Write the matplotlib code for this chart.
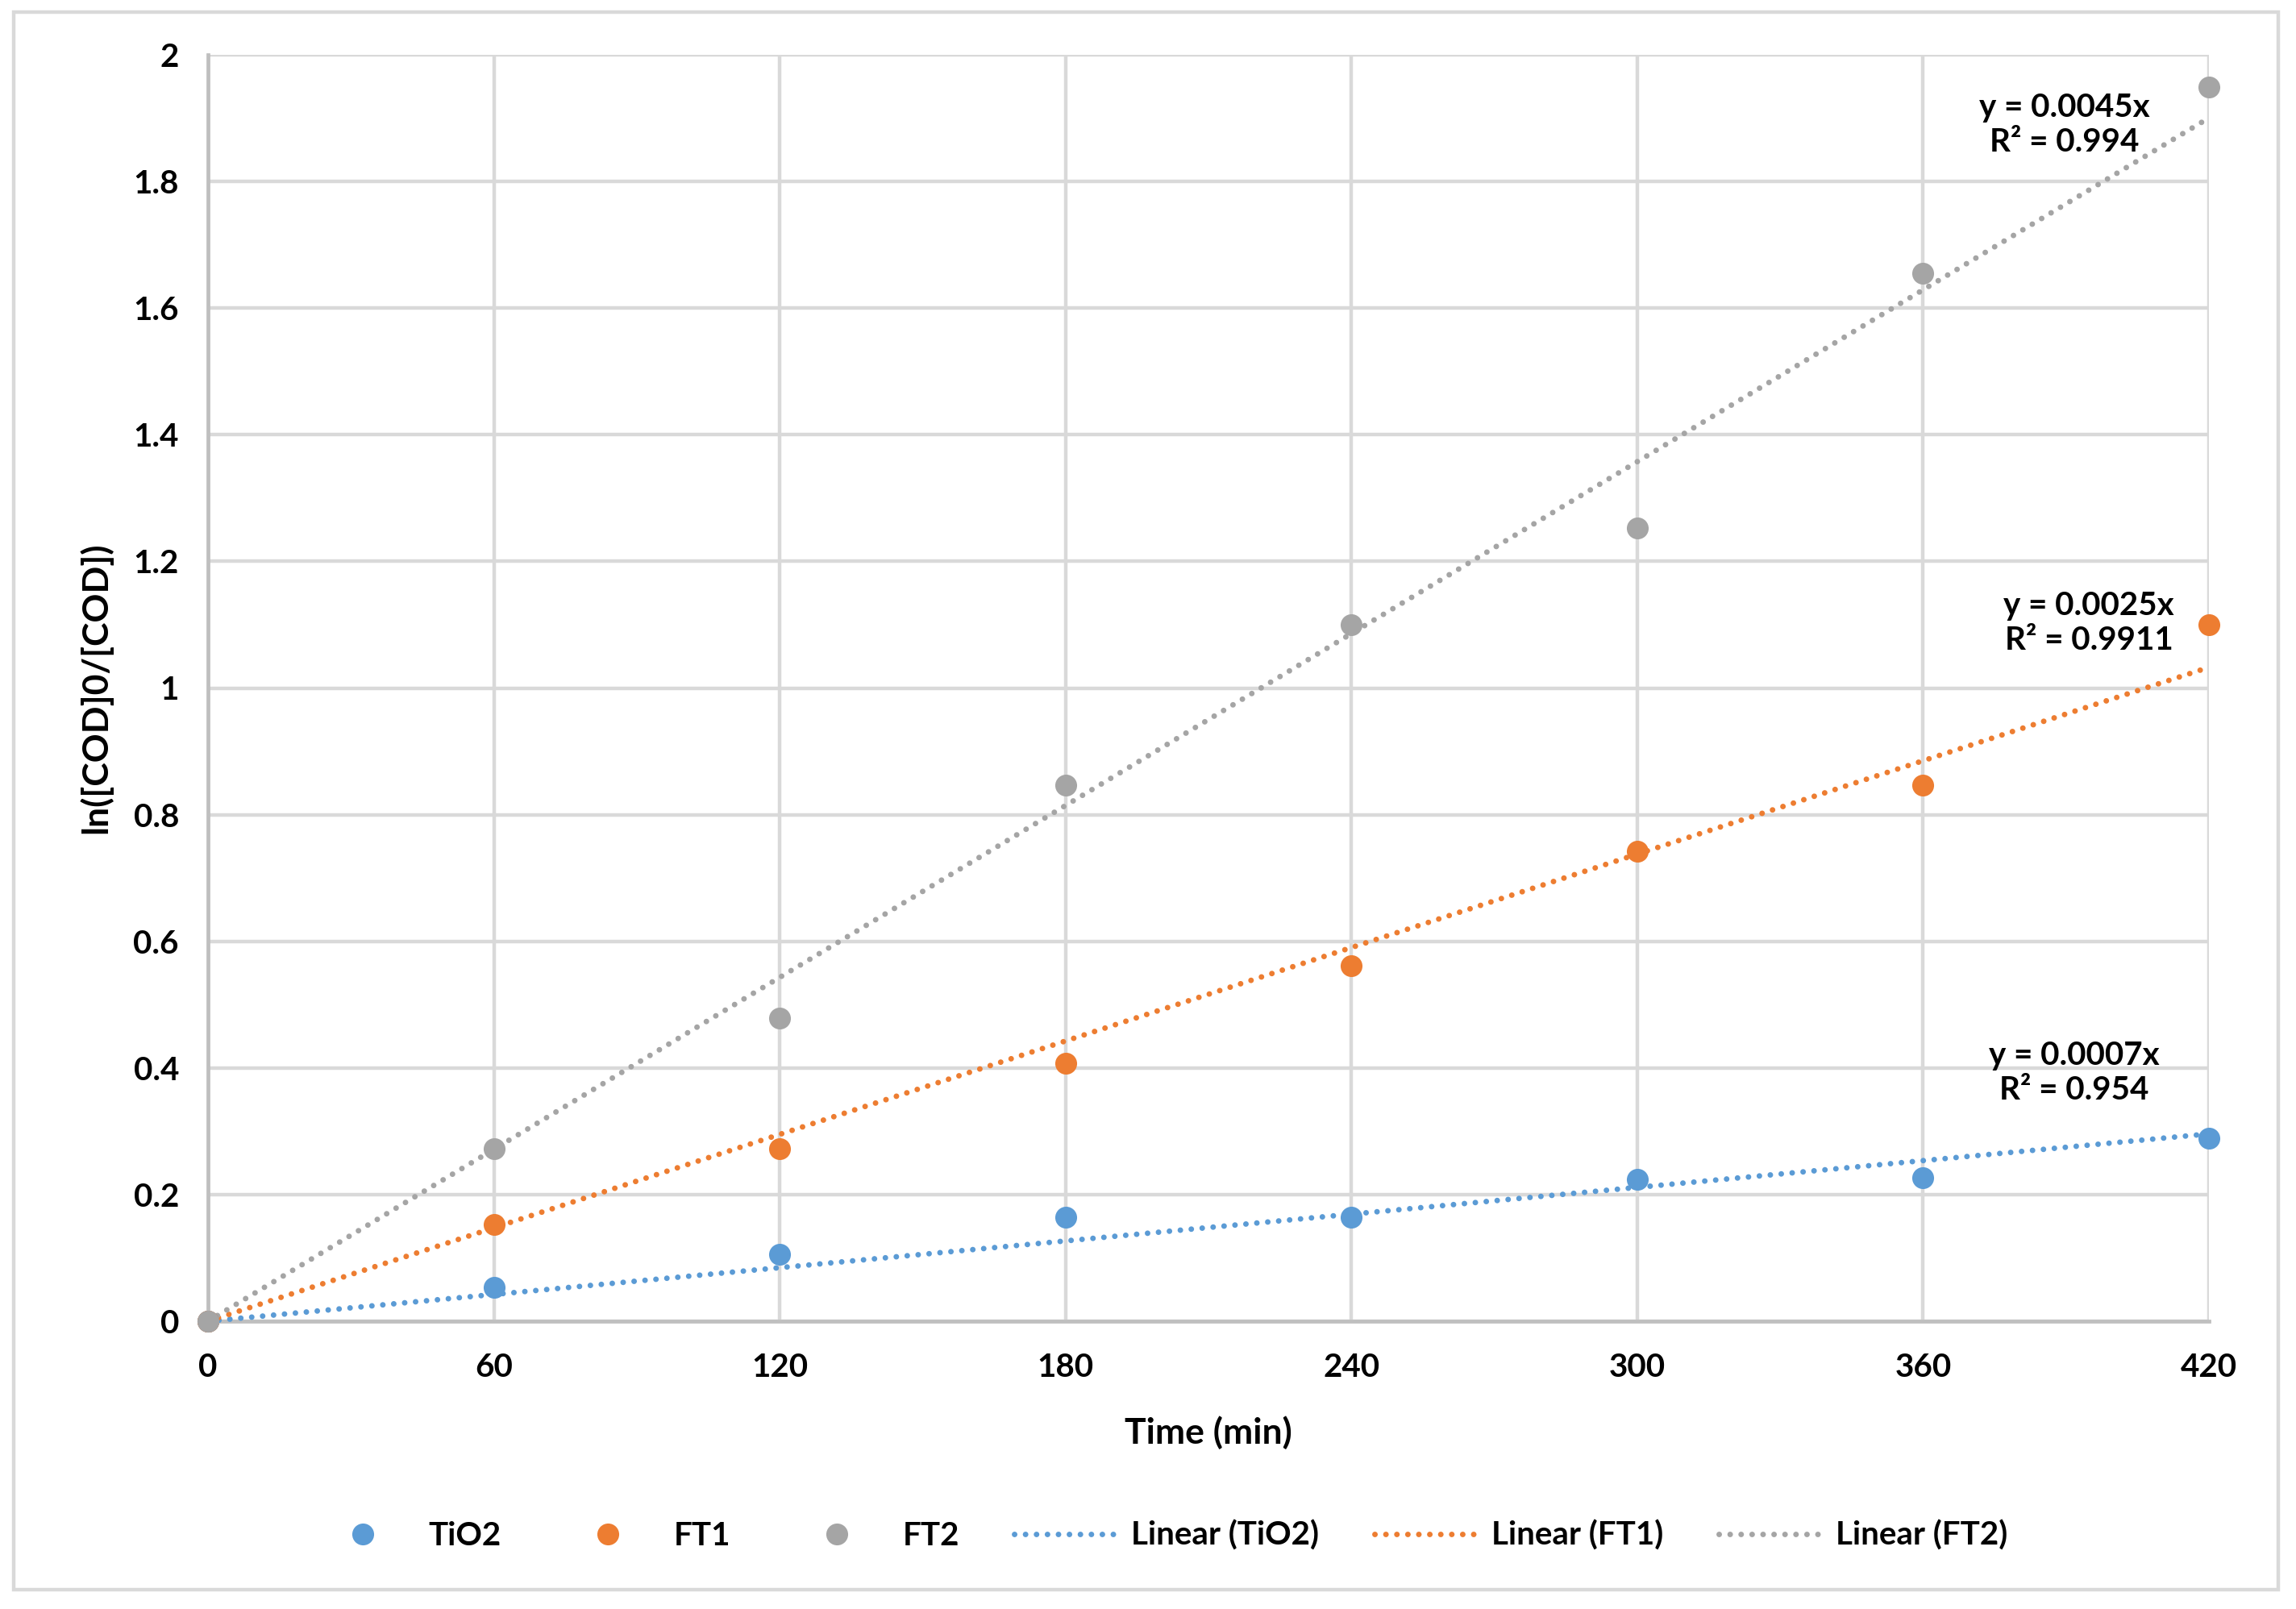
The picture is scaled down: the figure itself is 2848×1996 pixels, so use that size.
import numpy as np
import matplotlib
matplotlib.use("Agg")
import matplotlib.pyplot as plt
from matplotlib.patches import Rectangle
from matplotlib.ticker import FuncFormatter

plt.rcParams['font.family'] = ['Lato', 'DejaVu Sans']
plt.rcParams['font.weight'] = 'bold'

time_min = [0, 60, 120, 180, 240, 300, 360, 420]
tio2 = [0.0, 0.053, 0.106, 0.164, 0.164, 0.224, 0.227, 0.289]
ft1 = [0.0, 0.153, 0.273, 0.407, 0.562, 0.742, 0.846, 1.10]
ft2 = [0.0, 0.273, 0.479, 0.846, 1.10, 1.253, 1.655, 1.949]
series_names = ['TiO2', 'FT1', 'FT2']
eq_labels = ['y = 0.0007x\nR² = 0.954', 'y = 0.0025x\nR² = 0.9911', 'y = 0.0045x\nR² = 0.994']
colors = ['#5B9BD5', '#ED7D31', '#A5A5A5']
xticks = [0, 60, 120, 180, 240, 300, 360, 420]
yticks = [0, 0.2, 0.4, 0.6, 0.8, 1.0, 1.2, 1.4, 1.6, 1.8, 2.0]

W, H = 2848, 1996
fig = plt.figure(figsize=(W / 100, H / 100), dpi=100)
ax = fig.add_axes([258 / W, 1 - 1639 / H, (2740 - 258) / W, (1639 - 68) / H])

fig.patches.append(Rectangle((17 / W, 1 - 1972 / H), (2826 - 17) / W, (1972 - 15) / H,
                             transform=fig.transFigure, fill=False,
                             edgecolor='#D9D9D9', linewidth=3.2, zorder=0))

x = np.array(time_min, dtype=float)
data = [np.array(tio2), np.array(ft1), np.array(ft2)]
label_pos = [(391.7, 0.392), (394.8, 1.102), (389.6, 1.889)]

handles_pts = []
handles_lines = []
xfit = np.array([0.0, 420.0])
for y, name, c, eq, pos in zip(data, series_names, colors, eq_labels, label_pos):
    slope = np.sum(x * y) / np.sum(x * x)
    ln, = ax.plot(xfit, slope * xfit, color=c, linewidth=5,
                  linestyle=(0, (0.01, 1.95)), dash_capstyle='round',
                  zorder=3, clip_on=False, label=f'Linear ({name})')
    pt, = ax.plot(x, y, linestyle='none', marker='o', markersize=19.5,
                  color=c, markeredgewidth=0, zorder=4, clip_on=False, label=name)
    handles_pts.append(pt)
    handles_lines.append(ln)
    ax.text(pos[0], pos[1], eq, ha='center', va='center', fontsize=29,
            fontweight='bold', linespacing=1.2, zorder=5)

ax.set_xlim(0, 420)
ax.set_ylim(0, 2)
ax.set_xticks(xticks)
ax.set_yticks(yticks)
ax.yaxis.set_major_formatter(FuncFormatter(lambda v, p: f'{v:g}'))
ax.grid(True, color='#D9D9D9', linewidth=3.2, zorder=0)
ax.set_axisbelow(True)
for s in ['top', 'right']:
    ax.spines[s].set_visible(False)
for s in ['left', 'bottom']:
    ax.spines[s].set_color('#BFBFBF')
    ax.spines[s].set_linewidth(3.4)
ax.tick_params(axis='both', length=0, labelsize=29)
ax.tick_params(axis='x', pad=28)
ax.tick_params(axis='y', pad=26)
for lab in ax.get_xticklabels() + ax.get_yticklabels():
    lab.set_fontweight('bold')

ax.set_xlabel('Time (min)', fontsize=32, fontweight='bold')
ax.set_ylabel('ln([COD]0/[COD])', fontsize=32, fontweight='bold')
ax.xaxis.set_label_coords(0.5, -0.088)
ax.xaxis.label.set_va('center')
ax.yaxis.set_label_coords(-0.0564, 0.5)
ax.yaxis.label.set_va('center')

fig.legend(handles=handles_pts + handles_lines, loc='center',
           bbox_to_anchor=(0.505, 1 - 1905 / H), ncol=6, frameon=False,
           fontsize=29, handlelength=3.15, handletextpad=0.45, columnspacing=1.7)

fig.savefig('out.png', dpi=100)
